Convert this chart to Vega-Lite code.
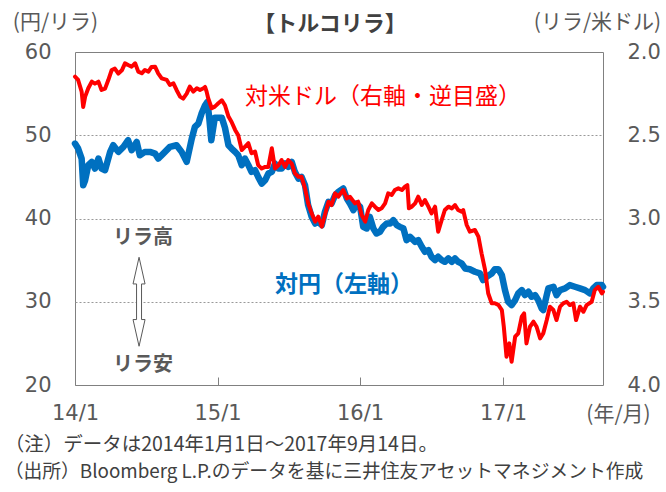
{
  "$schema": "https://vega.github.io/schema/vega-lite/v6.json",
  "width": 528,
  "height": 333,
  "autosize": {"type": "none"},
  "padding": {"left": 75, "top": 52, "right": 63, "bottom": 107},
  "background": "white",
  "config": {
    "view": {"stroke": "#808080", "strokeWidth": 1},
    "font": "Noto Sans CJK JP",
    "axis": {
      "labelFont": "DejaVu Sans",
      "labelFontSize": 21,
      "labelColor": "#595959",
      "titleFont": "Noto Sans CJK JP",
      "titleFontSize": 21,
      "titleFontWeight": "normal",
      "titleColor": "#595959",
      "titleAngle": 0,
      "titleAlign": "center",
      "titleBaseline": "middle"
    }
  },
  "datasets": {
    "jpy": [
      {"date": "2014-01-01", "yen": 49.0}, {"date": "2014-01-09", "yen": 48.4}, {"date": "2014-01-18", "yen": 47.2},
      {"date": "2014-01-22", "yen": 44.0}, {"date": "2014-01-27", "yen": 44.6}, {"date": "2014-02-04", "yen": 46.4},
      {"date": "2014-02-13", "yen": 46.8}, {"date": "2014-02-21", "yen": 46.0}, {"date": "2014-03-02", "yen": 47.2},
      {"date": "2014-03-10", "yen": 46.0}, {"date": "2014-03-19", "yen": 45.8}, {"date": "2014-04-01", "yen": 48.0},
      {"date": "2014-04-09", "yen": 48.8}, {"date": "2014-04-22", "yen": 48.0}, {"date": "2014-05-05", "yen": 48.6},
      {"date": "2014-05-17", "yen": 49.4}, {"date": "2014-05-26", "yen": 48.2}, {"date": "2014-06-08", "yen": 49.2},
      {"date": "2014-06-16", "yen": 47.6}, {"date": "2014-06-29", "yen": 48.0}, {"date": "2014-07-12", "yen": 48.0},
      {"date": "2014-07-25", "yen": 47.8}, {"date": "2014-08-02", "yen": 47.2}, {"date": "2014-08-15", "yen": 47.8},
      {"date": "2014-09-01", "yen": 48.6}, {"date": "2014-09-18", "yen": 48.8}, {"date": "2014-10-01", "yen": 48.0},
      {"date": "2014-10-14", "yen": 46.8}, {"date": "2014-10-27", "yen": 49.6}, {"date": "2014-11-04", "yen": 51.0},
      {"date": "2014-11-13", "yen": 51.4}, {"date": "2014-11-21", "yen": 52.6}, {"date": "2014-11-30", "yen": 53.6},
      {"date": "2014-12-06", "yen": 54.0}, {"date": "2014-12-11", "yen": 52.0}, {"date": "2014-12-16", "yen": 49.4},
      {"date": "2014-12-25", "yen": 52.1}, {"date": "2015-01-12", "yen": 52.1}, {"date": "2015-01-20", "yen": 50.9},
      {"date": "2015-01-29", "yen": 48.8}, {"date": "2015-02-06", "yen": 48.4}, {"date": "2015-02-15", "yen": 48.0},
      {"date": "2015-02-23", "yen": 47.6}, {"date": "2015-03-04", "yen": 46.4}, {"date": "2015-03-12", "yen": 47.2},
      {"date": "2015-03-21", "yen": 46.4}, {"date": "2015-03-29", "yen": 45.6}, {"date": "2015-04-07", "yen": 45.8},
      {"date": "2015-04-15", "yen": 45.0}, {"date": "2015-04-24", "yen": 44.2}, {"date": "2015-05-03", "yen": 44.6},
      {"date": "2015-05-11", "yen": 45.4}, {"date": "2015-05-20", "yen": 45.6}, {"date": "2015-05-28", "yen": 46.6},
      {"date": "2015-06-06", "yen": 46.0}, {"date": "2015-06-14", "yen": 46.0}, {"date": "2015-06-23", "yen": 46.6},
      {"date": "2015-07-01", "yen": 46.2}, {"date": "2015-07-10", "yen": 46.8}, {"date": "2015-07-18", "yen": 45.6},
      {"date": "2015-07-27", "yen": 44.8}, {"date": "2015-08-04", "yen": 45.0}, {"date": "2015-08-13", "yen": 44.0},
      {"date": "2015-08-21", "yen": 41.6}, {"date": "2015-08-30", "yen": 40.2}, {"date": "2015-09-08", "yen": 39.4},
      {"date": "2015-09-16", "yen": 39.6}, {"date": "2015-09-25", "yen": 39.2}, {"date": "2015-10-03", "yen": 40.8},
      {"date": "2015-10-12", "yen": 42.0}, {"date": "2015-10-20", "yen": 41.8}, {"date": "2015-10-29", "yen": 42.8},
      {"date": "2015-11-06", "yen": 43.2}, {"date": "2015-11-19", "yen": 43.6}, {"date": "2015-11-28", "yen": 42.4},
      {"date": "2015-12-06", "yen": 41.8}, {"date": "2015-12-15", "yen": 41.0}, {"date": "2015-12-23", "yen": 41.8},
      {"date": "2016-01-01", "yen": 41.4}, {"date": "2016-01-09", "yen": 39.0}, {"date": "2016-01-18", "yen": 38.8},
      {"date": "2016-01-26", "yen": 40.2}, {"date": "2016-02-04", "yen": 38.8}, {"date": "2016-02-12", "yen": 38.2},
      {"date": "2016-02-21", "yen": 38.4}, {"date": "2016-02-29", "yen": 39.0}, {"date": "2016-03-09", "yen": 39.4},
      {"date": "2016-03-18", "yen": 39.4}, {"date": "2016-03-26", "yen": 39.8}, {"date": "2016-04-04", "yen": 39.2},
      {"date": "2016-04-12", "yen": 39.0}, {"date": "2016-04-21", "yen": 38.8}, {"date": "2016-04-29", "yen": 37.4},
      {"date": "2016-05-08", "yen": 37.8}, {"date": "2016-05-21", "yen": 37.2}, {"date": "2016-05-29", "yen": 37.4},
      {"date": "2016-06-07", "yen": 36.6}, {"date": "2016-06-15", "yen": 36.0}, {"date": "2016-06-24", "yen": 36.2},
      {"date": "2016-07-02", "yen": 35.4}, {"date": "2016-07-11", "yen": 35.0}, {"date": "2016-07-19", "yen": 35.4},
      {"date": "2016-07-28", "yen": 35.0}, {"date": "2016-08-05", "yen": 34.8}, {"date": "2016-08-14", "yen": 35.2},
      {"date": "2016-08-23", "yen": 34.8}, {"date": "2016-08-31", "yen": 35.2}, {"date": "2016-09-08", "yen": 34.8},
      {"date": "2016-09-17", "yen": 34.6}, {"date": "2016-09-26", "yen": 34.0}, {"date": "2016-10-08", "yen": 33.9},
      {"date": "2016-10-21", "yen": 33.6}, {"date": "2016-11-03", "yen": 33.4}, {"date": "2016-11-11", "yen": 32.6},
      {"date": "2016-11-20", "yen": 33.0}, {"date": "2016-12-03", "yen": 33.4}, {"date": "2016-12-11", "yen": 33.9},
      {"date": "2016-12-20", "yen": 33.9}, {"date": "2016-12-29", "yen": 33.2}, {"date": "2017-01-06", "yen": 31.4},
      {"date": "2017-01-14", "yen": 30.0}, {"date": "2017-01-23", "yen": 29.6}, {"date": "2017-02-01", "yen": 30.2},
      {"date": "2017-02-09", "yen": 31.0}, {"date": "2017-02-18", "yen": 31.4}, {"date": "2017-02-26", "yen": 30.8},
      {"date": "2017-03-07", "yen": 31.2}, {"date": "2017-03-15", "yen": 30.6}, {"date": "2017-03-24", "yen": 30.8},
      {"date": "2017-04-01", "yen": 30.2}, {"date": "2017-04-10", "yen": 29.2}, {"date": "2017-04-14", "yen": 29.0},
      {"date": "2017-04-23", "yen": 30.8}, {"date": "2017-04-27", "yen": 31.6}, {"date": "2017-05-10", "yen": 31.8},
      {"date": "2017-05-18", "yen": 30.8}, {"date": "2017-05-27", "yen": 31.4}, {"date": "2017-06-09", "yen": 31.6},
      {"date": "2017-06-21", "yen": 32.0}, {"date": "2017-07-04", "yen": 31.8}, {"date": "2017-07-17", "yen": 31.6},
      {"date": "2017-07-30", "yen": 31.4}, {"date": "2017-08-12", "yen": 31.0}, {"date": "2017-08-20", "yen": 31.6},
      {"date": "2017-08-29", "yen": 32.0}, {"date": "2017-09-11", "yen": 32.0}, {"date": "2017-09-14", "yen": 31.8}
    ],
    "usd": [
      {"date": "2014-01-01", "usd": 2.148}, {"date": "2014-01-09", "usd": 2.168}, {"date": "2014-01-18", "usd": 2.238},
      {"date": "2014-01-22", "usd": 2.33}, {"date": "2014-01-27", "usd": 2.268}, {"date": "2014-02-04", "usd": 2.218},
      {"date": "2014-02-13", "usd": 2.178}, {"date": "2014-02-21", "usd": 2.19}, {"date": "2014-03-02", "usd": 2.178},
      {"date": "2014-03-10", "usd": 2.228}, {"date": "2014-03-19", "usd": 2.22}, {"date": "2014-03-27", "usd": 2.17},
      {"date": "2014-04-05", "usd": 2.108}, {"date": "2014-04-13", "usd": 2.10}, {"date": "2014-04-22", "usd": 2.13},
      {"date": "2014-05-01", "usd": 2.11}, {"date": "2014-05-09", "usd": 2.068}, {"date": "2014-05-17", "usd": 2.078},
      {"date": "2014-05-26", "usd": 2.088}, {"date": "2014-06-04", "usd": 2.068}, {"date": "2014-06-12", "usd": 2.118},
      {"date": "2014-06-21", "usd": 2.128}, {"date": "2014-06-29", "usd": 2.108}, {"date": "2014-07-08", "usd": 2.118},
      {"date": "2014-07-16", "usd": 2.09}, {"date": "2014-07-25", "usd": 2.088}, {"date": "2014-08-02", "usd": 2.128},
      {"date": "2014-08-11", "usd": 2.158}, {"date": "2014-08-24", "usd": 2.168}, {"date": "2014-09-01", "usd": 2.198},
      {"date": "2014-09-10", "usd": 2.188}, {"date": "2014-09-18", "usd": 2.228}, {"date": "2014-09-27", "usd": 2.268},
      {"date": "2014-10-05", "usd": 2.28}, {"date": "2014-10-14", "usd": 2.25}, {"date": "2014-10-22", "usd": 2.208},
      {"date": "2014-10-31", "usd": 2.238}, {"date": "2014-11-09", "usd": 2.218}, {"date": "2014-11-17", "usd": 2.228},
      {"date": "2014-11-26", "usd": 2.218}, {"date": "2014-11-30", "usd": 2.21}, {"date": "2014-12-04", "usd": 2.238},
      {"date": "2014-12-08", "usd": 2.278}, {"date": "2014-12-17", "usd": 2.338}, {"date": "2014-12-25", "usd": 2.328},
      {"date": "2015-01-03", "usd": 2.308}, {"date": "2015-01-12", "usd": 2.29}, {"date": "2015-01-20", "usd": 2.32},
      {"date": "2015-01-29", "usd": 2.388}, {"date": "2015-02-06", "usd": 2.42}, {"date": "2015-02-15", "usd": 2.468},
      {"date": "2015-02-23", "usd": 2.50}, {"date": "2015-03-04", "usd": 2.589}, {"date": "2015-03-12", "usd": 2.57},
      {"date": "2015-03-21", "usd": 2.548}, {"date": "2015-03-29", "usd": 2.608}, {"date": "2015-04-07", "usd": 2.598},
      {"date": "2015-04-15", "usd": 2.679}, {"date": "2015-04-24", "usd": 2.70}, {"date": "2015-05-03", "usd": 2.69},
      {"date": "2015-05-11", "usd": 2.69}, {"date": "2015-05-20", "usd": 2.578}, {"date": "2015-05-28", "usd": 2.70},
      {"date": "2015-06-06", "usd": 2.68}, {"date": "2015-06-14", "usd": 2.649}, {"date": "2015-06-23", "usd": 2.69},
      {"date": "2015-07-01", "usd": 2.649}, {"date": "2015-07-10", "usd": 2.67}, {"date": "2015-07-18", "usd": 2.729},
      {"date": "2015-07-27", "usd": 2.749}, {"date": "2015-08-04", "usd": 2.749}, {"date": "2015-08-13", "usd": 2.819},
      {"date": "2015-08-21", "usd": 2.909}, {"date": "2015-08-30", "usd": 2.969}, {"date": "2015-09-08", "usd": 3.019},
      {"date": "2015-09-16", "usd": 2.989}, {"date": "2015-09-25", "usd": 3.049}, {"date": "2015-10-03", "usd": 2.979},
      {"date": "2015-10-12", "usd": 2.899}, {"date": "2015-10-20", "usd": 2.919}, {"date": "2015-10-29", "usd": 2.849},
      {"date": "2015-11-06", "usd": 2.869}, {"date": "2015-11-19", "usd": 2.829}, {"date": "2015-11-28", "usd": 2.879},
      {"date": "2015-12-06", "usd": 2.869}, {"date": "2015-12-19", "usd": 2.909}, {"date": "2015-12-27", "usd": 2.899},
      {"date": "2016-01-05", "usd": 2.979}, {"date": "2016-01-14", "usd": 3.019}, {"date": "2016-01-22", "usd": 2.949},
      {"date": "2016-01-31", "usd": 2.909}, {"date": "2016-02-08", "usd": 2.929}, {"date": "2016-02-17", "usd": 2.949},
      {"date": "2016-02-25", "usd": 2.939}, {"date": "2016-03-05", "usd": 2.909}, {"date": "2016-03-13", "usd": 2.849},
      {"date": "2016-03-22", "usd": 2.859}, {"date": "2016-03-30", "usd": 2.829}, {"date": "2016-04-08", "usd": 2.819},
      {"date": "2016-04-17", "usd": 2.829}, {"date": "2016-04-25", "usd": 2.809}, {"date": "2016-05-01", "usd": 2.80},
      {"date": "2016-05-05", "usd": 2.939}, {"date": "2016-05-12", "usd": 2.929}, {"date": "2016-05-21", "usd": 2.909},
      {"date": "2016-05-29", "usd": 2.869}, {"date": "2016-06-07", "usd": 2.919}, {"date": "2016-06-15", "usd": 2.889},
      {"date": "2016-06-24", "usd": 2.929}, {"date": "2016-07-02", "usd": 2.969}, {"date": "2016-07-11", "usd": 2.929},
      {"date": "2016-07-19", "usd": 3.079}, {"date": "2016-07-28", "usd": 3.009}, {"date": "2016-08-05", "usd": 2.949},
      {"date": "2016-08-14", "usd": 2.929}, {"date": "2016-08-23", "usd": 2.939}, {"date": "2016-08-31", "usd": 2.919},
      {"date": "2016-09-08", "usd": 2.949}, {"date": "2016-09-17", "usd": 2.959}, {"date": "2016-09-21", "usd": 2.949},
      {"date": "2016-09-30", "usd": 3.039}, {"date": "2016-10-08", "usd": 3.079}, {"date": "2016-10-21", "usd": 3.069},
      {"date": "2016-10-30", "usd": 3.109}, {"date": "2016-11-07", "usd": 3.209}, {"date": "2016-11-16", "usd": 3.309},
      {"date": "2016-11-24", "usd": 3.449}, {"date": "2016-12-03", "usd": 3.509}, {"date": "2016-12-11", "usd": 3.509},
      {"date": "2016-12-20", "usd": 3.519}, {"date": "2016-12-29", "usd": 3.55}, {"date": "2017-01-03", "usd": 3.65},
      {"date": "2017-01-10", "usd": 3.83}, {"date": "2017-01-17", "usd": 3.75}, {"date": "2017-01-23", "usd": 3.86},
      {"date": "2017-02-01", "usd": 3.71}, {"date": "2017-02-09", "usd": 3.69}, {"date": "2017-02-18", "usd": 3.59},
      {"date": "2017-02-24", "usd": 3.57}, {"date": "2017-03-02", "usd": 3.75}, {"date": "2017-03-11", "usd": 3.65},
      {"date": "2017-03-20", "usd": 3.62}, {"date": "2017-03-28", "usd": 3.65}, {"date": "2017-04-06", "usd": 3.72},
      {"date": "2017-04-14", "usd": 3.69}, {"date": "2017-04-23", "usd": 3.61}, {"date": "2017-05-01", "usd": 3.53},
      {"date": "2017-05-10", "usd": 3.55}, {"date": "2017-05-18", "usd": 3.61}, {"date": "2017-05-27", "usd": 3.53},
      {"date": "2017-06-04", "usd": 3.51}, {"date": "2017-06-13", "usd": 3.50}, {"date": "2017-06-21", "usd": 3.52},
      {"date": "2017-06-30", "usd": 3.51}, {"date": "2017-07-07", "usd": 3.61}, {"date": "2017-07-17", "usd": 3.53},
      {"date": "2017-07-26", "usd": 3.56}, {"date": "2017-08-03", "usd": 3.52}, {"date": "2017-08-16", "usd": 3.50},
      {"date": "2017-08-24", "usd": 3.43}, {"date": "2017-09-02", "usd": 3.41}, {"date": "2017-09-11", "usd": 3.45},
      {"date": "2017-09-14", "usd": 3.44}
    ]
  },
  "layer": [
    {
      "layer": [
        {
          "data": {"name": "jpy"},
          "mark": {"type": "line", "color": "#0070C0", "strokeWidth": 6.5, "strokeJoin": "round", "strokeCap": "round"},
          "encoding": {
            "x": {
              "field": "date", "type": "temporal",
              "scale": {"type": "utc", "domain": [{"year": 2014, "month": 1, "date": 1, "utc": true}, {"year": 2017, "month": 9, "date": 14, "utc": true}]},
              "axis": {
                "values": [
                  {"year": 2014, "month": 1, "date": 1, "utc": true},
                  {"year": 2015, "month": 1, "date": 1, "utc": true},
                  {"year": 2016, "month": 1, "date": 1, "utc": true},
                  {"year": 2017, "month": 1, "date": 1, "utc": true}
                ],
                "labelExpr": "utcFormat(datum.value, '%y/%-m')",
                "domain": false,
                "grid": false,
                "tickSize": -8,
                "tickColor": "#808080",
                "labelPadding": 36,
                "labelFlush": false,
                "labelBaseline": "middle",
                "title": "(年/月)",
                "titleX": 543,
                "titleY": 29
              }
            },
            "y": {
              "field": "yen", "type": "quantitative",
              "scale": {"domain": [20, 60]},
              "axis": {
                "orient": "left",
                "values": [20, 30, 40, 50, 60],
                "ticks": false,
                "domain": false,
                "labelPadding": 24,
                "grid": true,
                "gridColor": "#999999",
                "gridDash": [2, 2],
                "gridWidth": 1,
                "gridOpacity": {"condition": {"test": "datum.value === 20 || datum.value === 60", "value": 0}, "value": 1},
                "title": "(円/リラ)",
                "titleX": -20,
                "titleY": -30
              }
            }
          }
        },
        {
          "data": {"values": [{}]},
          "mark": {"type": "text", "font": "Noto Sans CJK JP", "fontSize": 22, "fontWeight": "bold", "color": "#404040", "align": "center", "baseline": "middle"},
          "encoding": {
            "x": {"datum": {"year": 2015, "month": 10, "date": 16, "utc": true}, "type": "temporal"},
            "y": {"datum": 63.4, "type": "quantitative"},
            "text": {"value": "【トルコリラ】"}
          }
        },
        {
          "data": {"values": [{}]},
          "mark": {"type": "text", "font": "Noto Sans CJK JP", "fontSize": 23, "color": "#FF0000", "align": "left", "baseline": "middle"},
          "encoding": {
            "x": {"datum": {"year": 2015, "month": 3, "date": 12, "utc": true}, "type": "temporal"},
            "y": {"datum": 54.6, "type": "quantitative"},
            "text": {"value": "対米ドル（右軸・逆目盛）"}
          }
        },
        {
          "data": {"values": [{}]},
          "mark": {"type": "text", "font": "Noto Sans CJK JP", "fontSize": 23, "fontWeight": "bold", "color": "#0070C0", "align": "left", "baseline": "middle"},
          "encoding": {
            "x": {"datum": {"year": 2015, "month": 5, "date": 28, "utc": true}, "type": "temporal"},
            "y": {"datum": 32.0, "type": "quantitative"},
            "text": {"value": "対円（左軸）"}
          }
        },
        {
          "data": {"values": [{}]},
          "mark": {"type": "text", "font": "Noto Sans CJK JP", "fontSize": 20, "fontWeight": "bold", "color": "#595959", "align": "center", "baseline": "middle"},
          "encoding": {
            "x": {"datum": {"year": 2014, "month": 6, "date": 24, "utc": true}, "type": "temporal"},
            "y": {"datum": 37.6, "type": "quantitative"},
            "text": {"value": "リラ高"}
          }
        },
        {
          "data": {"values": [{}]},
          "mark": {"type": "text", "font": "Noto Sans CJK JP", "fontSize": 20, "fontWeight": "bold", "color": "#595959", "align": "center", "baseline": "middle"},
          "encoding": {
            "x": {"datum": {"year": 2014, "month": 6, "date": 24, "utc": true}, "type": "temporal"},
            "y": {"datum": 22.4, "type": "quantitative"},
            "text": {"value": "リラ安"}
          }
        },
        {
          "data": {"values": [{}]},
          "mark": {
            "type": "point", "filled": true, "fill": "white", "stroke": "#595959", "strokeWidth": 1, "opacity": 1, "size": 7920,
            "shape": "M0,-1L0.135,-0.4L0.056,-0.4L0.056,0.4L0.135,0.4L0,1L-0.135,0.4L-0.056,0.4L-0.056,-0.4L-0.135,-0.4Z"
          },
          "encoding": {
            "x": {"datum": {"year": 2014, "month": 6, "date": 14, "utc": true}, "type": "temporal"},
            "y": {"datum": 30.0, "type": "quantitative"}
          }
        },
        {
          "data": {"values": [{}]},
          "mark": {"type": "text", "font": "Noto Sans CJK JP", "fontSize": 19.5, "color": "#404040", "align": "left", "baseline": "middle"},
          "encoding": {
            "x": {"datum": {"year": 2013, "month": 7, "date": 5, "utc": true}, "type": "temporal"},
            "y": {"datum": 12.75, "type": "quantitative"},
            "text": {"value": "（注）データは2014年1月1日～2017年9月14日。"}
          }
        },
        {
          "data": {"values": [{}]},
          "mark": {"type": "text", "font": "Noto Sans CJK JP", "fontSize": 18.8, "color": "#404040", "align": "left", "baseline": "middle"},
          "encoding": {
            "x": {"datum": {"year": 2013, "month": 7, "date": 5, "utc": true}, "type": "temporal"},
            "y": {"datum": 9.6, "type": "quantitative"},
            "text": {"value": "（出所）Bloomberg L.P.のデータを基に三井住友アセットマネジメント作成"}
          }
        }
      ]
    },
    {
      "data": {"name": "usd"},
      "mark": {"type": "line", "color": "#FF0000", "strokeWidth": 4, "strokeJoin": "round", "strokeCap": "round"},
      "encoding": {
        "x": {"field": "date", "type": "temporal"},
        "y": {
          "field": "usd", "type": "quantitative",
          "scale": {"domain": [2.0, 4.0], "reverse": true},
          "axis": {
            "orient": "right",
            "values": [2.0, 2.5, 3.0, 3.5, 4.0],
            "format": ".1f",
            "ticks": false,
            "domain": false,
            "grid": false,
            "labelPadding": 24,
            "title": "(リラ/米ドル)",
            "titleX": -6,
            "titleY": -30
          }
        }
      }
    }
  ],
  "resolve": {"scale": {"y": "independent"}}
}
